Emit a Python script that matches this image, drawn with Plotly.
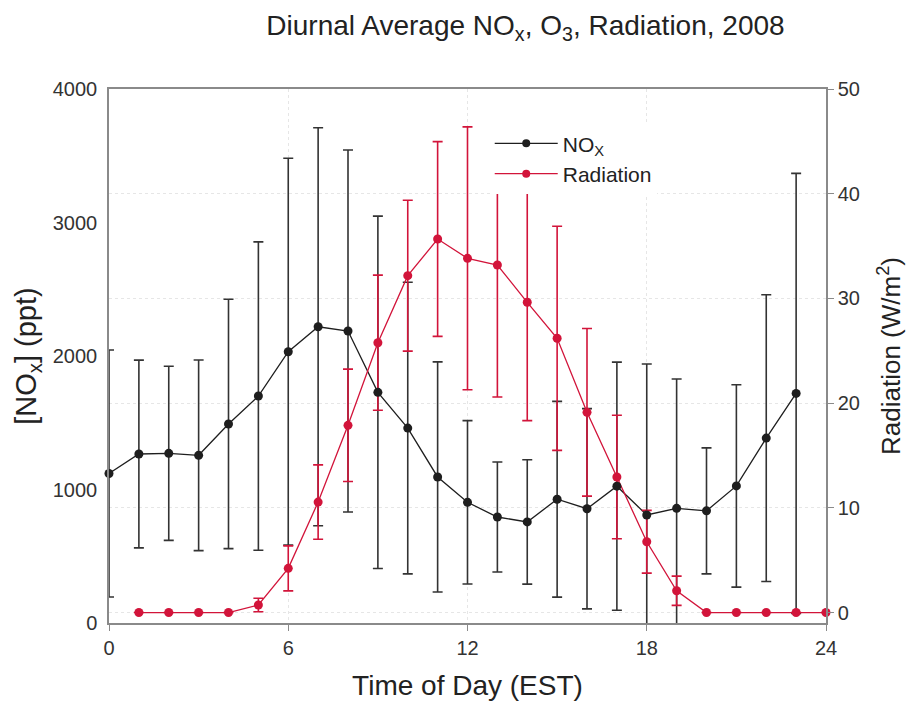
import plotly.graph_objects as go

# ---- data ----
hours_nox = list(range(0, 24))
nox_mean = [1120, 1266, 1271, 1256, 1491, 1700, 2032, 2219, 2187, 1728, 1460, 1094,
            904, 794, 757, 927, 856, 1025, 809, 859, 840, 1027, 1385, 1720]
nox_err = [925, 703, 652, 714, 934, 1155, 1449, 1491, 1356, 1320, 1092, 862,
           612, 412, 466, 733, 750, 929, 1131, 969, 472, 758, 1074, 1648]

hours_rad = list(range(1, 25))
rad_mean = [0, 0, 0, 0, 0.72, 4.22, 10.55, 17.88, 25.77, 32.17, 35.67, 33.83,
            33.19, 29.63, 26.19, 19.12, 12.94, 6.76, 2.08, 0, 0, 0, 0, 0]
rad_err = [0, 0, 0, 0, 0.65, 2.15, 3.55, 5.37, 6.45, 7.2, 9.3, 12.55,
           12.6, 11.3, 10.7, 8.0, 5.9, 3.0, 1.4, 0, 0, 0, 0, 0]

x_ticks = [0, 6, 12, 18, 24]
nox_ticks = [0, 1000, 2000, 3000, 4000]
rad_ticks = [0, 10, 20, 30, 40, 50]

BLACK = "#1e1e1e"
RED = "#d2143a"
FONT = "Liberation Sans, Arial, sans-serif"
TXT = "#222222"

fig = go.Figure()

# NOx line + error bars
fig.add_trace(go.Scatter(
    x=hours_nox, y=nox_mean, mode="lines", yaxis="y",
    line=dict(color=BLACK, width=1.3),
    error_y=dict(type="data", array=nox_err, visible=True, color="#333333",
                 thickness=1.6, width=5),
    showlegend=False, hoverinfo="skip"))

# Radiation line + error bars
fig.add_trace(go.Scatter(
    x=hours_rad, y=rad_mean, mode="lines", yaxis="y2",
    line=dict(color=RED, width=1.3),
    error_y=dict(type="data", array=rad_err, visible=True, color=RED,
                 thickness=1.6, width=5),
    showlegend=False, hoverinfo="skip"))

# Radiation markers
fig.add_trace(go.Scatter(
    x=hours_rad, y=rad_mean, mode="markers", yaxis="y2", cliponaxis=False,
    marker=dict(color=RED, size=9),
    showlegend=False))

# NOx markers (on top)
fig.add_trace(go.Scatter(
    x=hours_nox, y=nox_mean, mode="markers", yaxis="y3", cliponaxis=False,
    marker=dict(color=BLACK, size=9),
    showlegend=False))

# legend entries
fig.add_trace(go.Scatter(
    x=[None], y=[None], mode="lines+markers", name="NO<sub>X</sub>",
    line=dict(color=BLACK, width=1.3), marker=dict(color=BLACK, size=8)))
fig.add_trace(go.Scatter(
    x=[None], y=[None], mode="lines+markers", name="Radiation",
    line=dict(color=RED, width=1.3), marker=dict(color=RED, size=8)))

AX = "#8a8a8a"
GRID = "#e6e6e6"

fig.update_layout(
    width=906, height=703,
    margin=dict(l=109, r=80, t=89, b=80),
    paper_bgcolor="white", plot_bgcolor="white",
    font=dict(family=FONT, color="#333333", size=20),
    title=dict(text="Diurnal Average NO<sub>x</sub>, O<sub>3</sub>, Radiation, 2008",
               x=0.58, xanchor="center", y=0.964, yanchor="middle",
               font=dict(size=28, color=TXT)),
    xaxis=dict(range=[0, 24], tickvals=x_ticks, ticks="outside", ticklen=6,
               tickcolor=AX, showline=True, linecolor=AX, linewidth=1.5,
               mirror=True, showgrid=True, gridcolor=GRID, griddash="dot",
               gridwidth=1, zeroline=False, automargin=False,
               title=dict(text="Time of Day (EST)", font=dict(size=28, color=TXT),
                          standoff=18)),
    yaxis=dict(range=[0, 4000], tickvals=nox_ticks, ticks="", showline=True,
               linecolor=AX, linewidth=1.5, showgrid=False, zeroline=False,
               ticklabelstandoff=6, automargin=False,
               title=dict(text="[NO<sub>x</sub>] (ppt)", font=dict(size=29, color=TXT),
                          standoff=8)),
    yaxis2=dict(range=[-1, 50], tickvals=rad_ticks, overlaying="y", side="right",
                ticks="outside", ticklen=6, tickcolor=AX, showline=True,
                linecolor=AX, linewidth=1.5, showgrid=True, gridcolor=GRID,
                griddash="dot", zeroline=False, automargin=False,
                title=dict(text="Radiation (W/m<sup>2</sup>)",
                           font=dict(size=26, color=TXT), standoff=24)),
    yaxis3=dict(range=[0, 4000], overlaying="y", visible=False, automargin=False),
    legend=dict(x=0.531, y=0.936, xanchor="left", yanchor="top",
                bgcolor="white", borderwidth=0, font=dict(size=21, color=TXT),
                tracegroupgap=0, itemwidth=63),
    showlegend=True,
)

fig.write_html("out.html")
